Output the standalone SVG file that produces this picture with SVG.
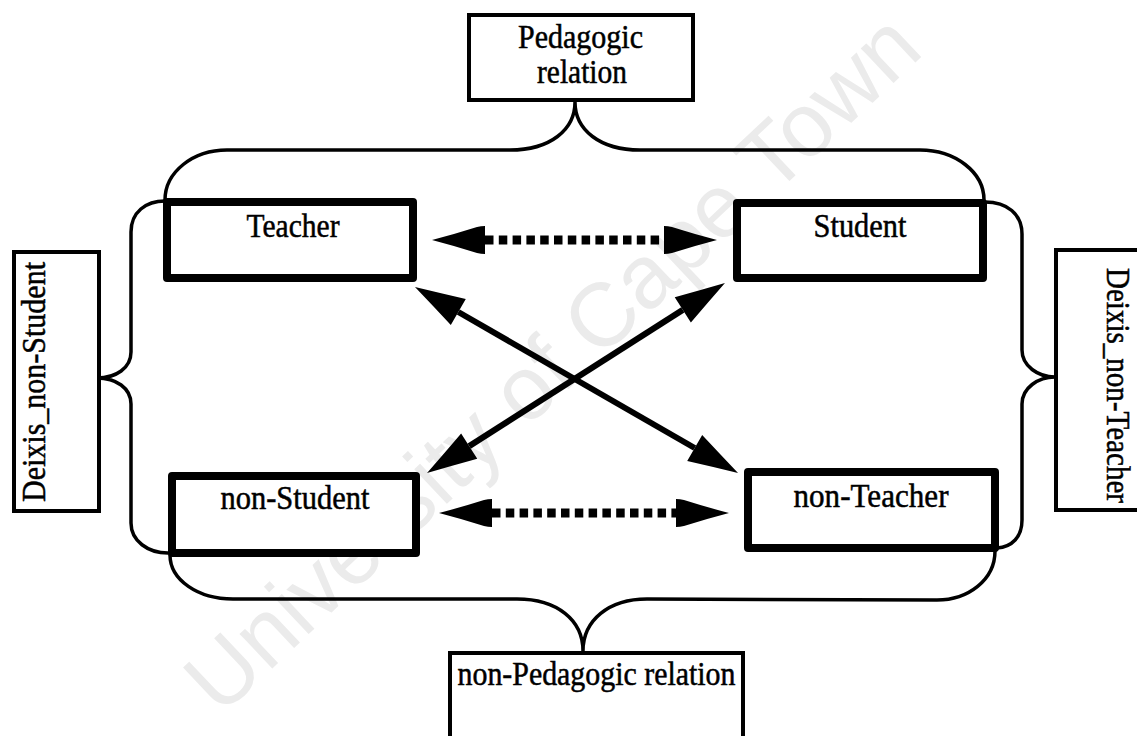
<svg xmlns="http://www.w3.org/2000/svg" width="1137" height="736" viewBox="0 0 1137 736">
<style>
.node{fill:#fff;stroke:#000;stroke-width:8;stroke-linejoin:round}
.label{fill:#fff;stroke:#000;stroke-width:4}
.t{font-family:"Liberation Serif","Times New Roman",serif;font-size:33px;fill:#000;stroke:#000;stroke-width:0.5;text-anchor:middle}
.brace{fill:none;stroke:#000;stroke-width:3.5;stroke-linecap:round}
.dot{fill:none;stroke:#000;stroke-width:9;stroke-dasharray:8.5 5.3}
.solid{fill:none;stroke:#000;stroke-width:6}
.wm{font-family:"Liberation Sans",Arial,sans-serif;font-size:90px;fill:#ebebeb;text-anchor:middle}
</style>
<defs>
<marker id="hd" markerUnits="userSpaceOnUse" markerWidth="56" markerHeight="32" refX="0" refY="15" orient="auto-start-reverse" overflow="visible">
<path d="M0,1 Q4,1 8,2 Q30,9 53,15 Q30,21 8,28 Q4,29 0,29 Z" fill="#000"/>
</marker>
<marker id="hs" markerUnits="userSpaceOnUse" markerWidth="54" markerHeight="32" refX="0" refY="15" orient="auto-start-reverse" overflow="visible">
<path d="M0,0 Q26,8 50,15 Q26,22 0,30 Z" fill="#000"/>
</marker>
</defs>
<rect width="1137" height="736" fill="#fff"/>
<text class="wm" transform="translate(573,385) rotate(-43.3)">University of Cape Town</text>
<g id="connectors">
<path class="brace" d="M165,200 C165,172 193,150 227,150 L510,150 C550,150 575,130 575,102 C575,130 600,150 640,150 L920,150 C955,150 984,172 984,200"/>
<path class="brace" d="M165,201 C146,201 131,212 131,232 L131,352 C131,368 116,378 97,378 C116,378 131,388 131,404 L131,523 C131,541 148,553 168,553"/>
<path class="brace" d="M985,202 C1007,202 1022,214 1022,234 L1022,350 C1022,366 1038,377 1055,377 C1038,377 1022,388 1022,404 L1022,520 C1022,537 1012,547 997,548"/>
<path class="brace" d="M170,555 C170,580 198,599 233,599 L517,599 C557,599 583,620 583,651 C583,620 609,599 647,599 L937,600 C968,600 995,580 995,551"/>
<line class="dot" x1="485" y1="240" x2="664" y2="240" marker-start="url(#hd)" marker-end="url(#hd)"/>
<line class="dot" x1="492" y1="513" x2="676" y2="513" marker-start="url(#hd)" marker-end="url(#hd)"/>
<line class="solid" x1="458.3" y1="312" x2="694.7" y2="448" marker-start="url(#hs)" marker-end="url(#hs)"/>
<line class="solid" x1="682.8" y1="309.9" x2="469.2" y2="446.1" marker-start="url(#hs)" marker-end="url(#hs)"/>
</g>
<g id="pedagogic-relation">
<rect class="label" x="469" y="15" width="224" height="85"/>
<text class="t" x="580.5" y="48" textLength="125" lengthAdjust="spacingAndGlyphs">Pedagogic</text>
<text class="t" x="582" y="83" textLength="90" lengthAdjust="spacingAndGlyphs">relation</text>
</g>
<g id="teacher">
<rect class="node" x="167" y="202" width="246" height="76"/>
<text class="t" x="293" y="237" textLength="93" lengthAdjust="spacingAndGlyphs">Teacher</text>
</g>
<g id="student">
<rect class="node" x="737" y="203" width="246" height="75"/>
<text class="t" x="860" y="237" textLength="93" lengthAdjust="spacingAndGlyphs">Student</text>
</g>
<g id="non-student">
<rect class="node" x="172" y="476" width="244" height="77"/>
<text class="t" x="295" y="509" textLength="149" lengthAdjust="spacingAndGlyphs">non-Student</text>
</g>
<g id="non-teacher">
<rect class="node" x="748" y="472" width="247" height="76"/>
<text class="t" x="871" y="507" textLength="155" lengthAdjust="spacingAndGlyphs">non-Teacher</text>
</g>
<g id="deixis-non-student">
<rect class="label" x="14" y="252" width="85" height="259"/>
<text class="t" transform="translate(45,382) rotate(-90)" textLength="240" lengthAdjust="spacingAndGlyphs">Deixis_non-Student</text>
</g>
<g id="deixis-non-teacher">
<rect class="label" x="1056" y="250" width="100" height="260"/>
<text class="t" transform="translate(1107,385.5) rotate(90)" textLength="235" lengthAdjust="spacingAndGlyphs">Deixis_non-Teacher</text>
</g>
<g id="non-pedagogic-relation">
<rect class="label" x="450" y="653" width="293" height="120"/>
<text class="t" x="596.5" y="685" textLength="278" lengthAdjust="spacingAndGlyphs">non-Pedagogic relation</text>
</g>
</svg>
